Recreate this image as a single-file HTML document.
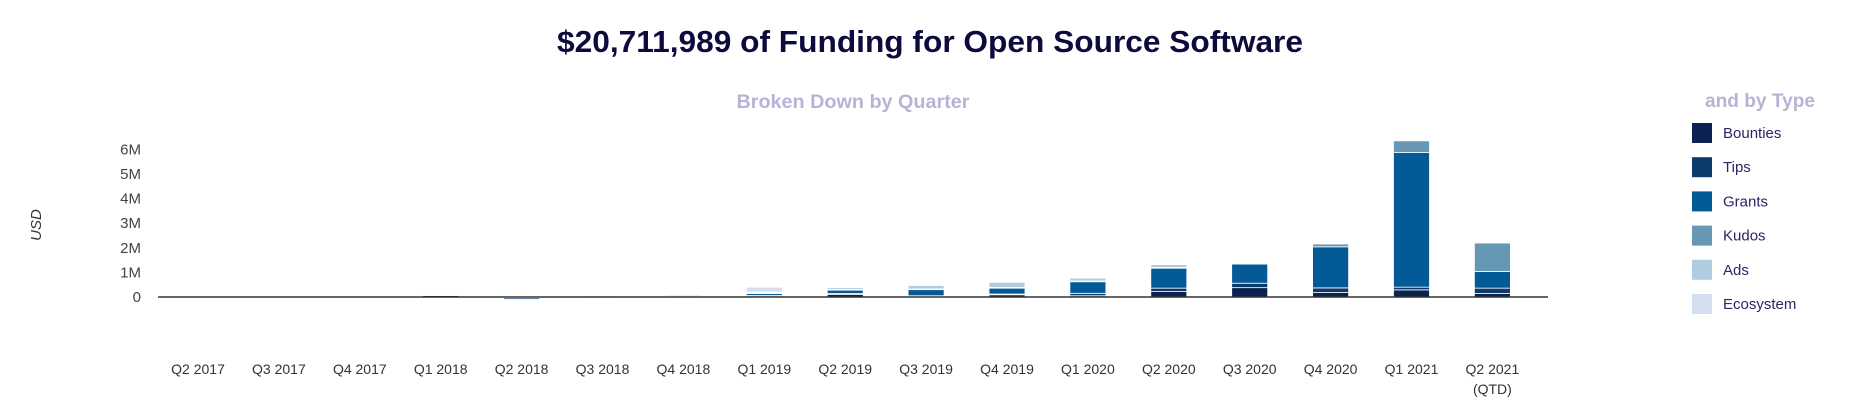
<!DOCTYPE html>
<html><head><meta charset="utf-8"><style>
html,body{margin:0;padding:0;background:#fff;}
body{width:1854px;height:410px;overflow:hidden;}
svg text{font-family:"Liberation Sans",sans-serif;}
</style></head><body>
<svg id="chart" width="1854" height="410" viewBox="0 0 1854 410" xmlns="http://www.w3.org/2000/svg">
<text x="930" y="52" text-anchor="middle" font-size="31" font-weight="bold" fill="#0d0a3d" font-family="'Liberation Sans Narrow','Liberation Sans',sans-serif" textLength="746" lengthAdjust="spacingAndGlyphs">$20,711,989 of Funding for Open Source Software</text>
<text x="853" y="108" text-anchor="middle" font-size="19" font-weight="bold" fill="#b8b3d6" font-family="'Liberation Sans Narrow','Liberation Sans',sans-serif" textLength="233" lengthAdjust="spacingAndGlyphs">Broken Down by Quarter</text>
<text transform="translate(41,225) rotate(-90)" text-anchor="middle" font-size="15" font-style="italic" fill="#333">USD</text>
<g id="yaxis"></g>
<g id="bars"></g>
<g id="xaxis"></g>
<g id="legend">
<text x="1760" y="107" text-anchor="middle" font-size="19" font-weight="bold" fill="#b8b3d6" font-family="'Liberation Sans Narrow','Liberation Sans',sans-serif" textLength="110" lengthAdjust="spacingAndGlyphs">and by Type</text>
</g>
</svg>
<script>
const categories=["Q2 2017","Q3 2017","Q4 2017","Q1 2018","Q2 2018","Q3 2018","Q4 2018","Q1 2019","Q2 2019","Q3 2019","Q4 2019","Q1 2020","Q2 2020","Q3 2020","Q4 2020","Q1 2021","Q2 2021"];
const seriesNames=["Bounties","Tips","Grants","Kudos","Ads","Ecosystem"];
const seriesColors=["#0b2150","#0c3a6b","#035a96","#6697b4","#b0cce0","#d3dfef"];
const bounties=[0.005,0.004,0.005,0.08,-0.04,0.005,0.005,0.02,0.11,0.03,0.10,0.05,0.22,0.38,0.18,0.29,0.14];
const tips=[0.003,0.003,0.003,0.01,-0.06,0.004,0.005,0.04,0.03,0.02,0.02,0.10,0.14,0.18,0.19,0.11,0.22];
const grants=[0,0,0,0,0,0,0,0.10,0.16,0.27,0.26,0.49,0.82,0.78,1.67,5.47,0.68];
const kudos=[0.02,0.01,0.02,0.01,0.01,0.01,0.01,0.01,0.01,0.01,0.01,0.01,0.02,0.03,0.12,0.49,1.16];
const ads=[0.02,0.02,0.02,0.04,0.02,0.05,0.06,0.03,0.08,0.16,0.22,0.12,0.12,0.02,0.03,0.02,0.03];
const ecosystem=[0.01,0.01,0.01,0.01,0.01,0.02,0.02,0.20,0.02,0.01,0.02,0.03,0.03,0.01,0.01,0.03,0.01];
const yTicks=[0,1,2,3,4,5,6];
const yTickLabels=["0","1M","2M","3M","4M","5M","6M"];
const series=[bounties,tips,grants,kudos,ads,ecosystem];

const NS="http://www.w3.org/2000/svg";
const x0=198, step=80.9, barW=36, yBase=297, pxPerM=24.6;
const xScale=i=>x0+i*step;
const yScale=v=>yBase-v*pxPerM;
function mk(tag,attrs,parent){const e=document.createElementNS(NS,tag);for(const k in attrs)e.setAttribute(k,attrs[k]);parent.appendChild(e);return e;}

const ya=document.getElementById('yaxis');
yTicks.forEach((t,i)=>{
  const tx=mk('text',{x:141,y:yScale(t)+5,'text-anchor':'end','font-size':15,fill:'#444'},ya);
  
  
  tx.textContent=yTickLabels[i];
});

const bg=document.getElementById('bars');
categories.forEach((c,i)=>{
  let pos=0,neg=0;
  series.forEach((s,k)=>{
    const v=s[i];
    if(!v)return;
    let y1,y2;
    if(v>=0){y1=yScale(pos+v);y2=yScale(pos);pos+=v;}
    else{y1=yScale(neg);y2=yScale(neg+v);neg+=v;}
    const r=mk('rect',{x:xScale(i)-barW/2,y:y1,width:barW,height:Math.max(y2-y1,0.8),fill:seriesColors[k],stroke:'#fff','stroke-width':0.8},bg);
    
    
  });
});

const xa=document.getElementById('xaxis');
const ax=mk('line',{x1:158,x2:1548,y1:yBase,y2:yBase,stroke:'#333','stroke-width':1.4},xa);


categories.forEach((c,i)=>{
  const tx=mk('text',{x:xScale(i),y:374,'text-anchor':'middle','font-size':14,fill:'#333'},xa);
  
  
  tx.textContent=c;
  if(i===categories.length-1){
    const t2=mk('text',{x:xScale(i),y:394,'text-anchor':'middle','font-size':14,fill:'#333'},xa);
    
    
    t2.textContent='(QTD)';
  }
});

const lg=document.getElementById('legend');
seriesNames.forEach((n,k)=>{
  const g=mk('g',{},lg);
  
  
  const cy=133+k*34.2;
  mk('rect',{x:1692,y:cy-10,width:20,height:20,fill:seriesColors[k]},g);
  const tx=mk('text',{x:1723,y:cy+5,'font-size':15,fill:'#2e2466'},g);
  tx.textContent=n;
});
</script>
</body></html>
